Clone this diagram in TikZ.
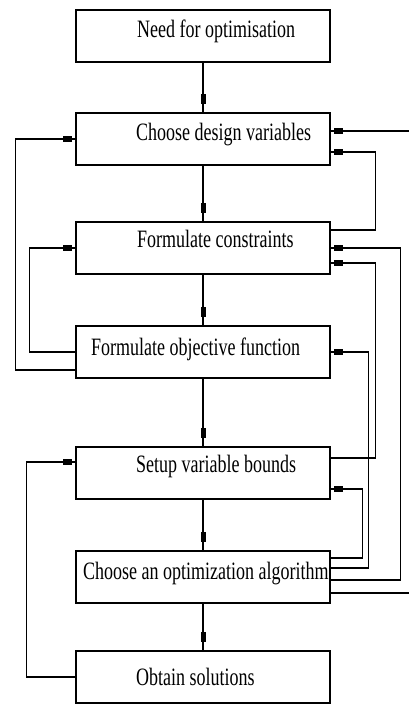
\documentclass[tikz,border=0pt]{standalone}
\usepackage{fontspec}
\usepackage{tikz}
\usetikzlibrary{calc,decorations.markings}
\newfontfamily\stagefont[FakeStretch=0.72]{Liberation Serif}

\tikzset{
  stage/.style={draw, line width=1.1pt, minimum width=254pt, minimum height=52pt, inner sep=0pt},
  caption/.style={anchor=base west, inner sep=0pt, font={\stagefont\fontsize{25}{30}\selectfont}},
  link/.style={line width=1.1pt, postaction={decorate},
    decoration={markings, mark=at position -3pt with {\fill (-9pt,-3pt) rectangle (0pt,3pt);}}},
  flow/.style={line width=1.1pt, postaction={decorate},
    decoration={markings, mark=at position -8pt with {\fill (-10pt,-2.5pt) rectangle (0pt,2.5pt);}}},
}

\begin{document}
\begin{tikzpicture}[x=1pt,y=1pt,yscale=-1,xscale=1]
  \useasboundingbox (0,0) rectangle (409,704);

  % boxes
  \node[stage] (need)   at (203,36)  {};
  \node[stage] (vars)   at (203,139) {};
  \node[stage] (cons)   at (203,248) {};
  \node[stage] (obj)    at (203,352) {};
  \node[stage] (bounds) at (203,473) {};
  \node[stage] (algo)   at (203,577) {};
  \node[stage] (sol)    at (203,677) {};

  % box texts
  \node[caption] (need-t)   at (137,37)  {Need for optimisation};
  \node[caption] (vars-t)   at (136,140) {Choose design variables};
  \node[caption] (cons-t)   at (137,247) {Formulate constraints};
  \node[caption] (obj-t)    at (91,355)  {Formulate objective function};
  \node[caption] (bounds-t) at (136,472) {Setup variable bounds};
  \node[caption] (algo-t)   at (83,579)  {Choose an optimization algorithm};
  \node[caption] (sol-t)    at (136,685) {Obtain solutions};

  % main flow
  \draw[flow] (need) -- (vars);
  \draw[flow] (vars) -- (cons);
  \draw[flow] (cons) -- (obj);
  \draw[flow] (obj) -- (bounds);
  \draw[flow] (bounds) -- (algo);
  \draw[flow] (algo) -- (sol);

  % feedback, left side
  \draw[link] ($(obj.west)+(0,18)$) -- ++(-60,0) |- (vars.west);
  \draw[link] (obj.west) -- ++(-46,0) |- (cons.west);
  \draw[link] (sol.west) -- ++(-49,0) |- ($(bounds.west)+(0,-11)$);

  % feedback, right side
  \draw[link] ($(cons.east)+(0,-18)$) -- ++(45,0) |- ($(vars.east)+(0,13)$);
  \draw[link] ($(bounds.east)+(0,-15)$) -- ++(45,0) |- ($(cons.east)+(0,15)$);
  \draw[link] ($(algo.east)+(0,3)$) -- ++(70,0) |- (cons.east);
  \draw[link] ($(algo.east)+(0,-9)$) -- ++(38,0) |- (obj.east);
  \draw[link] ($(algo.east)+(0,-19)$) -- ++(32,0) |- ($(bounds.east)+(0,16)$);

  % lines leaving the picture
  \coordinate (algo-out) at (409,593);
  \coordinate (vars-in) at (409,131);
  \draw[line width=1.1pt] ($(algo.east)+(0,16)$) -- (algo-out);
  \draw[link] (vars-in) -- ($(vars.east)+(0,-8)$);
\end{tikzpicture}
\end{document}
